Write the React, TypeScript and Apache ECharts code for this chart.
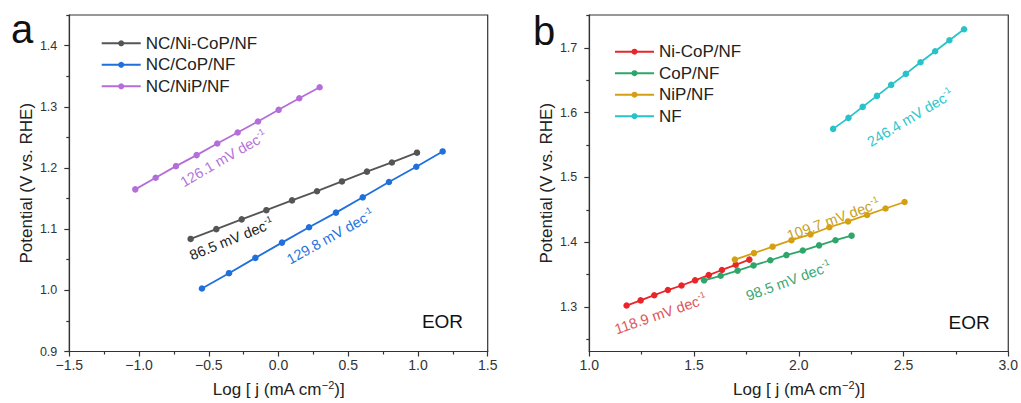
import React, { useEffect, useRef } from 'react';
import * as echarts from 'echarts';

// ---------- Panel a data ----------
const aNiCoPX = [-0.630, -0.446, -0.264, -0.087, 0.097, 0.276, 0.455, 0.634, 0.813, 0.993];
const aNiCoPY = [1.084, 1.100, 1.116, 1.131, 1.147, 1.162, 1.178, 1.194, 1.209, 1.225];
const aCoPX = [-0.549, -0.355, -0.166, 0.025, 0.219, 0.412, 0.604, 0.792, 0.988, 1.177];
const aCoPY = [1.003, 1.028, 1.053, 1.078, 1.103, 1.127, 1.152, 1.177, 1.202, 1.227];
const aNiPX = [-1.027, -0.881, -0.735, -0.587, -0.439, -0.293, -0.147, 0.001, 0.149, 0.295];
const aNiPY = [1.165, 1.184, 1.203, 1.221, 1.240, 1.258, 1.276, 1.295, 1.314, 1.332];

// ---------- Panel b data ----------
const bNiCoPX = [1.178, 1.245, 1.310, 1.375, 1.440, 1.505, 1.570, 1.633, 1.699, 1.764];
const bNiCoPY = [1.302, 1.310, 1.318, 1.326, 1.333, 1.341, 1.349, 1.357, 1.365, 1.373];
const bCoPX = [1.548, 1.627, 1.708, 1.784, 1.864, 1.941, 2.019, 2.097, 2.175, 2.252];
const bCoPY = [1.341, 1.348, 1.356, 1.364, 1.372, 1.380, 1.387, 1.395, 1.403, 1.410];
const bNiPX = [1.695, 1.786, 1.875, 1.965, 2.056, 2.146, 2.235, 2.326, 2.414, 2.505];
const bNiPY = [1.373, 1.383, 1.393, 1.403, 1.412, 1.423, 1.432, 1.442, 1.452, 1.462];
const bNFX = [2.164, 2.237, 2.305, 2.373, 2.441, 2.511, 2.581, 2.651, 2.719, 2.789];
const bNFY = [1.575, 1.592, 1.609, 1.626, 1.643, 1.660, 1.678, 1.695, 1.712, 1.729];

// ---------- Ticks ----------
const aXTicks = [-1.5, -1.0, -0.5, 0.0, 0.5, 1.0, 1.5];
const aXMinor = [-1.25, -0.75, -0.25, 0.25, 0.75, 1.25];
const aYTicks = [0.9, 1.0, 1.1, 1.2, 1.3, 1.4];
const aYMinor = [0.95, 1.05, 1.15, 1.25, 1.35, 1.45];
const bXTicks = [1.0, 1.5, 2.0, 2.5, 3.0];
const bXMinor = [1.25, 1.75, 2.25, 2.75];
const bYTicks = [1.3, 1.4, 1.5, 1.6, 1.7];
const bYMinor = [1.25, 1.35, 1.45, 1.55, 1.65, 1.75];

// ---------- Names ----------
const aNames = ['NC/Ni-CoP/NF', 'NC/CoP/NF', 'NC/NiP/NF'];
const bNames = ['Ni-CoP/NF', 'CoP/NF', 'NiP/NF', 'NF'];
const aColors = ['#555555', '#1f6fdc', '#b46ed9'];
const bColors = ['#e8262a', '#2ea66a', '#d4a012', '#27c3c8'];

// ---------- Annotations (data coords) ----------
const slopeTexts = ['126.1 mV dec', '86.5 mV dec', '129.8 mV dec', '246.4 mV dec', '109.7 mV dec', '98.5 mV dec', '118.9 mV dec'];
const slopePanel = [0, 0, 0, 1, 1, 1, 1];
const slopeX = [-0.394, -0.337, 0.373, 2.532, 2.165, 1.951, 1.341];
const slopeY = [1.215, 1.0835, 1.0876, 1.592, 1.435, 1.340, 1.289];
const slopeAngle = [30, 22, 29, 31, 20, 20, 19];
const slopeColors = ['#b574d8', '#222222', '#2a72dc', '#2cc7cb', '#c9a020', '#3aa876', '#e0555a'];

const FONT = '"Liberation Sans", Arial, Helvetica, sans-serif';

const zip = (xs: number[], ys: number[]) => xs.map((x, i) => [x, ys[i]]);
const fmt = (v: number) => v.toFixed(1).replace('-', '\u2212');

function mainX(gridIndex: number, min: number, max: number, ticks: number[]) {
  return {
    type: 'value', gridIndex, min, max, position: 'bottom',
    axisLine: { show: true, onZero: false, lineStyle: { color: '#333', width: 1.2 } },
    axisTick: { show: true, customValues: ticks, length: 5, lineStyle: { color: '#333', width: 1.2 } },
    axisLabel: { show: true, customValues: ticks, formatter: fmt, fontSize: 14, color: '#333', fontFamily: FONT, margin: 6 },
    splitLine: { show: false },
    name: '{n|Log [ j (mA cm}{s|\u22122}{n|)]}',
    nameLocation: 'middle', nameGap: 28,
    nameTextStyle: {
      fontFamily: FONT, color: '#222',
      rich: {
        n: { fontSize: 17, fontFamily: FONT, color: '#222', lineHeight: 20 },
        s: { fontSize: 11, fontFamily: FONT, color: '#222', verticalAlign: 'top', lineHeight: 14 },
      },
    },
  };
}
function minorX(gridIndex: number, min: number, max: number, ticks: number[]) {
  return {
    type: 'value', gridIndex, min, max, position: 'bottom',
    axisLine: { show: false, onZero: false },
    axisTick: { show: true, customValues: ticks, length: 3, lineStyle: { color: '#333', width: 1.2 } },
    axisLabel: { show: false },
    splitLine: { show: false },
  };
}
function mainY(gridIndex: number, min: number, max: number, ticks: number[]) {
  return {
    type: 'value', gridIndex, min, max, position: 'left',
    axisLine: { show: true, onZero: false, lineStyle: { color: '#333', width: 1.2 } },
    axisTick: { show: true, customValues: ticks, length: 5, lineStyle: { color: '#333', width: 1.2 } },
    axisLabel: { show: true, customValues: ticks, formatter: fmt, fontSize: 12.5, color: '#333', fontFamily: FONT, margin: 12 },
    splitLine: { show: false },
    name: 'Potential (V vs. RHE)',
    nameLocation: 'middle', nameGap: 34,
    nameTextStyle: { fontSize: 17, fontFamily: FONT, color: '#222' },
  };
}
function minorY(gridIndex: number, min: number, max: number, ticks: number[]) {
  return {
    type: 'value', gridIndex, min, max, position: 'left',
    axisLine: { show: false, onZero: false },
    axisTick: { show: true, customValues: ticks, length: 3, lineStyle: { color: '#333', width: 1.2 } },
    axisLabel: { show: false },
    splitLine: { show: false },
  };
}

function lineSeries(name: string, color: string, data: number[][], axisIndex: number) {
  return {
    type: 'line', name, data, xAxisIndex: axisIndex, yAxisIndex: axisIndex,
    symbol: 'circle', symbolSize: 6.5, showSymbol: true,
    lineStyle: { color, width: 1.8 },
    itemStyle: { color },
    emphasis: { disabled: true },
  };
}

export default function App() {
  const ref = useRef<HTMLDivElement>(null);
  useEffect(() => {
    if (!ref.current) return;
    const chart = echarts.init(ref.current, undefined, { renderer: 'svg' });
    const aData = [zip(aNiCoPX, aNiCoPY), zip(aCoPX, aCoPY), zip(aNiPX, aNiPY)];
    const bData = [zip(bNiCoPX, bNiCoPY), zip(bCoPX, bCoPY), zip(bNiPX, bNiPY), zip(bNFX, bNFY)];
    const legendCommon = {
      orient: 'vertical', padding: 0, itemWidth: 39, itemHeight: 7.5, itemGap: 4.5,
      textStyle: { fontSize: 17, fontFamily: FONT, color: '#222', lineHeight: 17 },
      icon: undefined,
    };
    chart.setOption({
      animation: false,
      backgroundColor: '#ffffff',
      textStyle: { fontFamily: FONT },
      grid: [
        { left: 69.3, top: 15, width: 418.4, height: 337.3, show: true, borderColor: '#333', borderWidth: 1.2, backgroundColor: 'transparent' },
        { left: 589.3, top: 15, width: 420, height: 338.3, show: true, borderColor: '#333', borderWidth: 1.2, backgroundColor: 'transparent' },
      ],
      xAxis: [
        mainX(0, -1.5, 1.5, aXTicks),
        minorX(0, -1.5, 1.5, aXMinor),
        mainX(1, 1.0, 3.0, bXTicks),
        minorX(1, 1.0, 3.0, bXMinor),
      ],
      yAxis: [
        mainY(0, 0.9, 1.45, aYTicks),
        minorY(0, 0.9, 1.45, aYMinor),
        mainY(1, 1.231, 1.751, bYTicks),
        minorY(1, 1.231, 1.751, bYMinor),
      ],
      legend: [
        { ...legendCommon, data: aNames, left: 100.7, top: 34.8 },
        { ...legendCommon, data: bNames, left: 614, top: 43.2 },
      ],
      series: [
        ...aNames.map((n, i) => lineSeries(n, aColors[i], aData[i], 0)),
        ...bNames.map((n, i) => lineSeries(n, bColors[i], bData[i], 2)),
      ],
    });

    const graphics: any[] = [];
    slopeTexts.forEach((t, i) => {
      const idx = slopePanel[i] === 0 ? 0 : 2;
      const p = chart.convertToPixel({ xAxisIndex: idx, yAxisIndex: idx } as any, [slopeX[i], slopeY[i]]) as number[];
      graphics.push({
        type: 'text', x: p[0], y: p[1], rotation: (slopeAngle[i] * Math.PI) / 180, silent: true,
        style: {
          text: `{n|${t}}{s|-1}`,
          align: 'center', verticalAlign: 'middle',
          fill: slopeColors[i], fontFamily: FONT,
          rich: {
            n: { fontSize: 14.5, fontFamily: FONT, fill: slopeColors[i], lineHeight: 18 },
            s: { fontSize: 9, fontFamily: FONT, fill: slopeColors[i], lineHeight: 10, verticalAlign: 'top' },
          },
        },
      });
    });
    const eorA = chart.convertToPixel({ xAxisIndex: 0, yAxisIndex: 0 } as any, [1.176, 0.9495]) as number[];
    const eorB = chart.convertToPixel({ xAxisIndex: 2, yAxisIndex: 2 } as any, [2.813, 1.2765]) as number[];
    [eorA, eorB].forEach((p) => {
      graphics.push({
        type: 'text', x: p[0], y: p[1], silent: true,
        style: { text: 'EOR', align: 'center', verticalAlign: 'middle', fontSize: 19, fontFamily: FONT, fill: '#111' },
      });
    });
    graphics.push({ type: 'text', x: 11, y: 28.5, silent: true, style: { text: 'a', align: 'left', verticalAlign: 'middle', fontSize: 40, fontFamily: FONT, fill: '#111' } });
    graphics.push({ type: 'text', x: 533, y: 30.5, silent: true, style: { text: 'b', align: 'left', verticalAlign: 'middle', fontSize: 40, fontFamily: FONT, fill: '#111' } });
    chart.setOption({ graphic: graphics });

    return () => chart.dispose();
  }, []);
  return <div ref={ref} style={{ position: 'fixed', left: 0, top: 0, width: 1021, height: 403, background: '#fff' }} />;
}
